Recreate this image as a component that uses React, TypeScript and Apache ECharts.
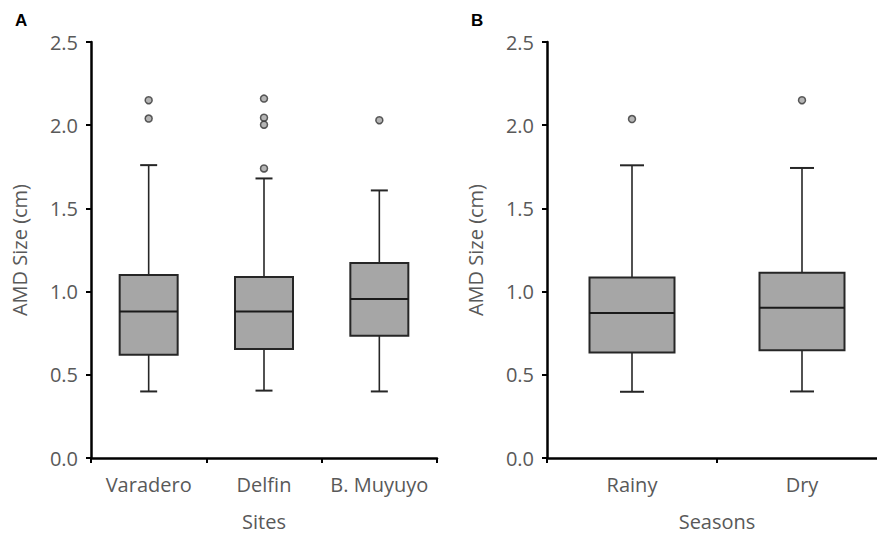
import React, { useEffect, useRef } from "react";
import * as echarts from "echarts";

// ---- Data ----
const siteCategories = ["Varadero", "Delfin", "B. Muyuyo"];
// [low whisker, Q1, median, Q3, high whisker]
const siteBoxes = [
  [0.40, 0.62, 0.88, 1.10, 1.76],
  [0.405, 0.655, 0.88, 1.087, 1.68],
  [0.40, 0.735, 0.955, 1.172, 1.608],
];
const siteOutliers = [
  [0, 2.15],
  [0, 2.04],
  [1, 2.16],
  [1, 2.045],
  [1, 2.003],
  [1, 1.74],
  [2, 2.03],
];

const seasonCategories = ["Rainy", "Dry"];
const seasonBoxes = [
  [0.398, 0.634, 0.871, 1.085, 1.759],
  [0.40, 0.648, 0.903, 1.114, 1.743],
];
const seasonOutliers = [
  [0, 2.037],
  [1, 2.15],
];

const yTicks = { min: 0, max: 2.5, interval: 0.5 };

const FONT = "'Open Sans', sans-serif";
const LABEL_COLOR = "#595959";

function makeRender(boxW: number, capW: number) {
  return (params: any, api: any) => {
    const idx = api.value(0);
    const low = api.coord([idx, api.value(1)]);
    const q1 = api.coord([idx, api.value(2)]);
    const med = api.coord([idx, api.value(3)]);
    const q3 = api.coord([idx, api.value(4)]);
    const high = api.coord([idx, api.value(5)]);
    const x = low[0];
    const stroke = { stroke: "#262626", lineWidth: 1.6 };
    return {
      type: "group",
      children: [
        { type: "line", shape: { x1: x, y1: q3[1], x2: x, y2: high[1] }, style: stroke },
        { type: "line", shape: { x1: x, y1: q1[1], x2: x, y2: low[1] }, style: stroke },
        { type: "line", shape: { x1: x - capW / 2, y1: high[1], x2: x + capW / 2, y2: high[1] }, style: { stroke: "#262626", lineWidth: 2 } },
        { type: "line", shape: { x1: x - capW / 2, y1: low[1], x2: x + capW / 2, y2: low[1] }, style: { stroke: "#262626", lineWidth: 2 } },
        {
          type: "rect",
          shape: { x: x - boxW / 2, y: q3[1], width: boxW, height: q1[1] - q3[1] },
          style: { fill: "#a6a6a6", stroke: "#262626", lineWidth: 2 },
        },
        { type: "line", shape: { x1: x - boxW / 2, y1: med[1], x2: x + boxW / 2, y2: med[1] }, style: { stroke: "#1a1a1a", lineWidth: 2 } },
      ],
    };
  };
}

function xAxisDef(gridIndex: number, cats: string[], name: string) {
  return {
    type: "category",
    gridIndex,
    data: cats,
    boundaryGap: true,
    name,
    nameLocation: "middle",
    nameGap: 53,
    nameTextStyle: { color: LABEL_COLOR, fontSize: 20, lineHeight: 20, fontFamily: FONT },
    axisLine: { show: true, lineStyle: { color: "#000", width: 2.5 } },
    axisTick: { show: true, length: 5, lineStyle: { color: "#000", width: 2 } },
    axisLabel: { color: LABEL_COLOR, fontSize: 20, fontFamily: FONT, margin: 16, interval: 0, hideOverlap: false },
    splitLine: { show: false },
  };
}

function yAxisDef(gridIndex: number) {
  return {
    type: "value",
    gridIndex,
    min: yTicks.min,
    max: yTicks.max,
    interval: yTicks.interval,
    name: "AMD Size (cm)",
    nameLocation: "middle",
    nameGap: 62,
    nameTextStyle: { color: LABEL_COLOR, fontSize: 20, fontFamily: FONT },
    axisLine: { show: true, lineStyle: { color: "#000", width: 2.5 } },
    axisTick: { show: true, length: 5, lineStyle: { color: "#000", width: 2 } },
    axisLabel: {
      color: LABEL_COLOR,
      fontSize: 20,
      fontFamily: FONT,
      margin: 13,
      formatter: (v: number) => v.toFixed(1),
    },
    splitLine: { show: false },
  };
}

export default function App() {
  const ref = useRef<HTMLDivElement>(null);
  useEffect(() => {
    document.body.style.margin = "0";
    if (!ref.current) return;
    const chart = echarts.init(ref.current, null, { renderer: "svg" });
    const outlierStyle = { color: "#a3a3a3", borderColor: "#333", borderWidth: 1.5 };
    chart.setOption({
      animation: false,
      backgroundColor: "#fff",
      grid: [
        { left: 91, top: 42, width: 346, height: 416, containLabel: false, outerBoundsMode: "none" },
        { left: 547, top: 42, width: 340, height: 416, containLabel: false, outerBoundsMode: "none" },
      ],
      xAxis: [xAxisDef(0, siteCategories, "Sites"), xAxisDef(1, seasonCategories, "Seasons")],
      yAxis: [yAxisDef(0), yAxisDef(1)],
      graphic: [
        { type: "text", left: 15, top: 12, style: { text: "A", font: "bold 17px 'Liberation Sans', Arial, sans-serif", fill: "#000" } },
        { type: "text", left: 471, top: 12, style: { text: "B", font: "bold 17px 'Liberation Sans', Arial, sans-serif", fill: "#000" } },
      ],
      series: [
        {
          type: "custom",
          xAxisIndex: 0,
          yAxisIndex: 0,
          renderItem: makeRender(58, 17),
          encode: { x: 0, y: [1, 2, 3, 4, 5] },
          data: siteBoxes.map((b, i) => [i, ...b]),
          z: 2,
        },
        {
          type: "scatter",
          xAxisIndex: 0,
          yAxisIndex: 0,
          symbol: "circle",
          symbolSize: 7,
          itemStyle: outlierStyle,
          data: siteOutliers,
          z: 3,
        },
        {
          type: "custom",
          xAxisIndex: 1,
          yAxisIndex: 1,
          renderItem: makeRender(85, 24),
          encode: { x: 0, y: [1, 2, 3, 4, 5] },
          data: seasonBoxes.map((b, i) => [i, ...b]),
          z: 2,
        },
        {
          type: "scatter",
          xAxisIndex: 1,
          yAxisIndex: 1,
          symbol: "circle",
          symbolSize: 7,
          itemStyle: outlierStyle,
          data: seasonOutliers,
          z: 3,
        },
      ],
    });
    return () => chart.dispose();
  }, []);
  return <div ref={ref} style={{ width: 877, height: 536 }} />;
}
